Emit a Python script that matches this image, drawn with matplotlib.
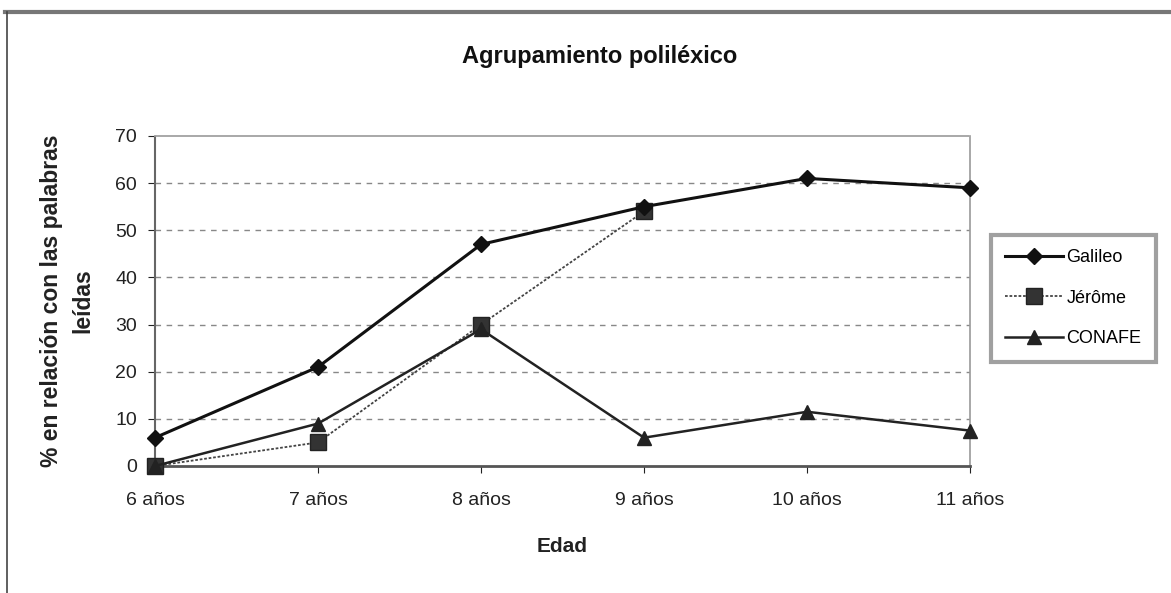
import matplotlib.pyplot as plt
from matplotlib.lines import Line2D

# Data
edades = ["6 años", "7 años", "8 años", "9 años", "10 años", "11 años"]
galileo = [6, 21, 47, 55, 61, 59]
jerome = [0, 5, 30, 54]
conafe = [0, 9, 29, 6, 11.5, 7.5]

plt.rcParams['font.family'] = ['Liberation Sans', 'DejaVu Sans']

fig = plt.figure(figsize=(11.71, 5.93), dpi=100)
ax = fig.add_axes([0.1324, 0.2142, 0.696, 0.5565])

x = list(range(len(edades)))
ax.plot(x, galileo, color="#111111", lw=2.2, marker="D", ms=8, label="Galileo",
        clip_on=False, zorder=4)
ax.plot(x[:len(jerome)], jerome, color="#444444", lw=1.3, ls=(0, (1.5, 1)),
        marker="s", ms=11, mfc="#333333", mec="#222222", label="Jérôme",
        clip_on=False, zorder=3)
ax.plot(x, conafe, color="#222222", lw=1.8, marker="^", ms=10, label="CONAFE",
        clip_on=False, zorder=3)

ax.set_xlim(0, 5)
ax.set_ylim(0, 70)
ax.set_yticks(range(0, 71, 10))
ax.set_xticks(x)
ax.set_xticklabels(edades)
ax.tick_params(axis="both", labelsize=14, colors="#222222", length=5)
ax.tick_params(axis="y", pad=8)
ax.tick_params(axis="x", pad=14)
for v in range(10, 70, 10):
    ax.axhline(v, color="#888888", lw=1, ls=(0, (4, 4)), zorder=0)

for s in ax.spines.values():
    s.set_color("#999999")
    s.set_linestyle((0, (2, 1)))
    s.set_linewidth(1.2)
ax.spines["bottom"].set_color("#555555")
ax.spines["bottom"].set_linewidth(2)
ax.spines["bottom"].set_linestyle("-")
ax.spines["left"].set_color("#666666")
ax.spines["left"].set_linewidth(1.5)

fig.text(0.512, 0.905, "Agrupamiento poliléxico", ha="center", va="center",
         fontsize=17, fontweight="bold", color="#111111")
ax.set_xlabel("Edad", fontsize=15, fontweight="bold", labelpad=20, color="#222222")
ax.set_ylabel("% en relación con las palabras\nleídas", fontsize=16.5, fontweight="bold",
              labelpad=15, color="#222222", linespacing=1.45)

leg = fig.legend(loc="center", bbox_to_anchor=(0.9165, 0.497), fontsize=13,
                 frameon=True, fancybox=False, handlelength=3.2, handletextpad=0.2,
                 labelspacing=1.3, borderpad=0.8)
leg.get_frame().set_edgecolor("#888888")
leg.get_frame().set_linewidth(3)

# figure border lines
fig.add_artist(Line2D([0.004, 1.0], [0.979, 0.979], color="#777777", lw=3))
fig.add_artist(Line2D([0.006, 0.006], [0.0, 0.979], color="#444444", lw=1.2))

fig.savefig("out.png", dpi=100)
